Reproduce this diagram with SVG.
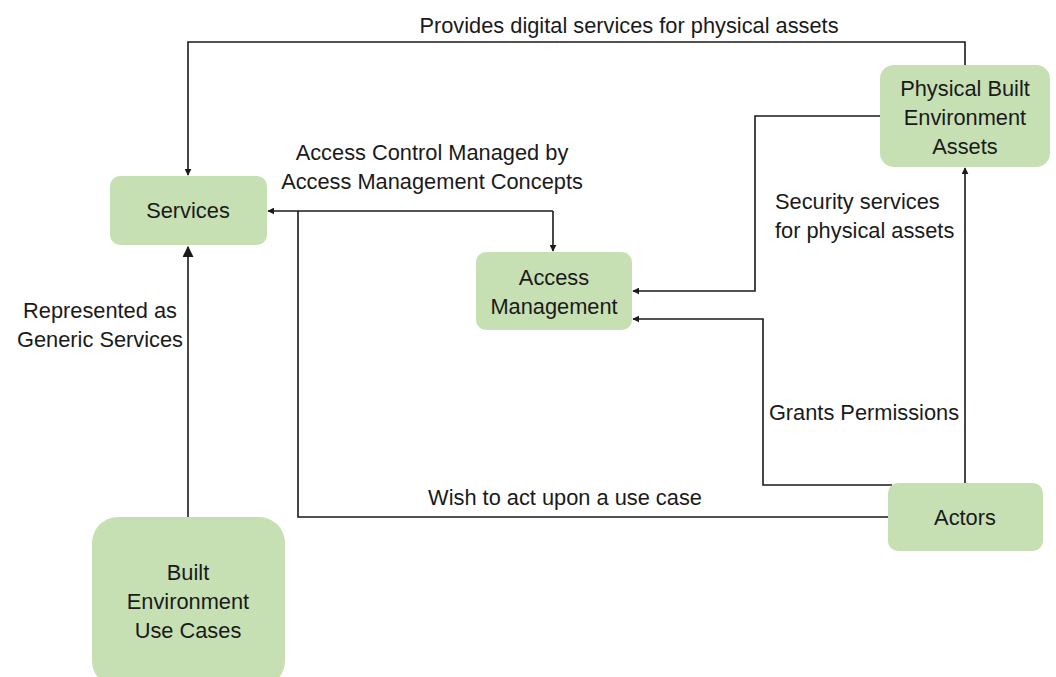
<svg xmlns="http://www.w3.org/2000/svg" width="1056" height="677" viewBox="0 0 1056 677">
<style>
.box{fill:#c6e0b4;stroke:none}
.t{font-family:"Liberation Sans",Arial,sans-serif;font-size:21.8px;fill:#1a1a1a;text-anchor:middle}
.tl{font-family:"Liberation Sans",Arial,sans-serif;font-size:21.8px;fill:#1a1a1a}
.c{fill:none;stroke:#1a1a1a;stroke-width:1.6}
</style>
<defs>
<marker id="ah" viewBox="0 0 10 10" refX="9" refY="5" markerWidth="7" markerHeight="7" markerUnits="userSpaceOnUse" orient="auto">
<path d="M0,0 L10,5 L0,10 z" fill="#1a1a1a"/>
</marker>
<marker id="ahL" viewBox="0 0 10 10" refX="9" refY="5" markerWidth="11" markerHeight="11" markerUnits="userSpaceOnUse" orient="auto">
<path d="M0,0 L10,5 L0,10 z" fill="#1a1a1a"/>
</marker>
</defs>
<rect width="1056" height="677" fill="#ffffff"/>
<g id="connectors">
<path class="c" d="M965,65 V42 H188 V175" marker-end="url(#ah)"/>
<path class="c" d="M553,211 H268" marker-end="url(#ah)"/>
<path class="c" d="M553,211 V251" marker-end="url(#ah)"/>
<path class="c" d="M888,517 H298 V211"/>
<path class="c" d="M880,116 H755 V291 H633" marker-end="url(#ah)"/>
<path class="c" d="M892,485 H763 V319 H633" marker-end="url(#ah)"/>
<path class="c" d="M965,483 V168" marker-end="url(#ah)"/>
<path class="c" d="M188,517 V247" marker-end="url(#ahL)"/>
</g>
<g id="labels">
<text class="t" x="629" y="33">Provides digital services for physical assets</text>
<text class="t" x="432" y="160">Access Control Managed by</text>
<text class="t" x="432" y="189">Access Management Concepts</text>
<text class="tl" x="775" y="209">Security services</text>
<text class="tl" x="775" y="238">for physical assets</text>
<text class="t" x="100" y="318">Represented as</text>
<text class="t" x="100" y="347">Generic Services</text>
<text class="t" x="864" y="420">Grants Permissions</text>
<text class="t" x="565" y="505">Wish to act upon a use case</text>
</g>
<g id="services">
<rect class="box" x="110" y="176" width="157" height="69" rx="10"/>
<text class="t" x="188" y="218">Services</text>
</g>
<g id="access-management">
<rect class="box" x="476" y="252" width="156" height="78" rx="10"/>
<text class="t" x="554" y="285">Access</text>
<text class="t" x="554" y="314">Management</text>
</g>
<g id="physical-assets">
<rect class="box" x="880" y="65" width="170" height="102" rx="14"/>
<text class="t" x="965" y="96">Physical Built</text>
<text class="t" x="965" y="125">Environment</text>
<text class="t" x="965" y="154">Assets</text>
</g>
<g id="actors">
<rect class="box" x="888" y="483" width="155" height="68" rx="10"/>
<text class="t" x="965" y="525">Actors</text>
</g>
<g id="use-cases">
<rect class="box" x="92" y="517" width="193" height="170" rx="26"/>
<text class="t" x="188" y="580">Built</text>
<text class="t" x="188" y="609">Environment</text>
<text class="t" x="188" y="638">Use Cases</text>
</g>
</svg>
